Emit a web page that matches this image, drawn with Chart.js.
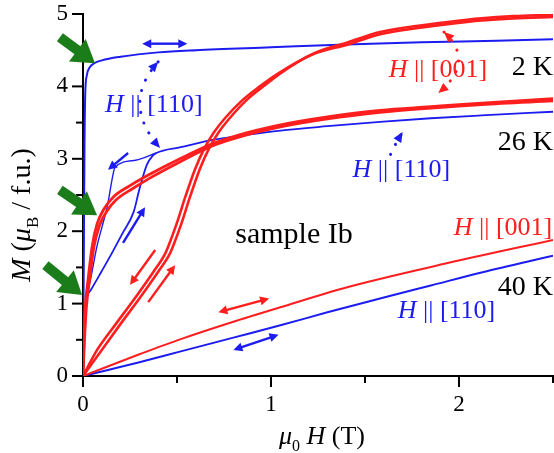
<!DOCTYPE html>
<html>
<head>
<meta charset="utf-8">
<title>M(H) sample Ib</title>
<script src="https://cdn.jsdelivr.net/npm/chart.js@4.4.0/dist/chart.umd.min.js"></script>
<style>
  html, body { margin: 0; padding: 0; background: #fff; }
</style>
</head>
<body>
<canvas id="mhChart" width="554" height="453"></canvas>
<script>
const RED = '#ff1e1e';
const BLUE = '#1c1cf0';
const GREEN = '#1a7d1a';
const SERIF = '"Liberation Serif", "Times New Roman", serif';

// tick labels (field in T, moment in muB / f.u.)
const fieldTicks = [0, 1, 2];
const momentTicks = [0, 1, 2, 3, 4, 5];

// 2 K, H || [001] - up and down sweeps of the metamagnetic step
const h2k001Up   = [0, 0.1, 0.2, 0.3, 0.4, 0.46, 0.48, 0.52, 0.57, 0.62, 0.67, 0.72, 0.78, 0.87, 0.95, 1.05, 1.23, 1.41, 1.58, 1.76, 1.94, 2.12, 2.29, 2.5];
const m2k001Up   = [0, 0.36, 0.72, 1.07, 1.44, 1.68, 1.80, 2.08, 2.48, 2.85, 3.14, 3.36, 3.56, 3.81, 3.98, 4.18, 4.46, 4.61, 4.75, 4.83, 4.89, 4.94, 4.97, 4.99];
const h2k001Down = [0, 0.075, 0.175, 0.275, 0.375, 0.435, 0.455, 0.495, 0.545, 0.595, 0.645, 0.695, 0.755, 0.848, 0.93, 1.033, 1.22, 1.41, 1.58, 1.76, 1.94, 2.12, 2.29, 2.5];
const m2k001Down = [0, 0.36, 0.72, 1.07, 1.44, 1.68, 1.80, 2.08, 2.48, 2.85, 3.14, 3.36, 3.56, 3.81, 3.98, 4.17, 4.44, 4.58, 4.72, 4.80, 4.86, 4.91, 4.94, 4.96];

// 2 K, H || [110]
const h2k110 = [0, 0.004, 0.008, 0.012, 0.02, 0.035, 0.06, 0.1, 0.2, 0.4, 0.6, 1.0, 1.4, 1.8, 2.2, 2.5];
const m2k110 = [0, 1.5, 3.2, 3.9, 4.15, 4.26, 4.32, 4.36, 4.41, 4.47, 4.50, 4.54, 4.58, 4.61, 4.63, 4.65];

// 26 K, H || [001]
const h26k001Up   = [0, 0.005, 0.012, 0.027, 0.048, 0.075, 0.11, 0.16, 0.25, 0.35, 0.5, 0.7, 0.87, 1.05, 1.3, 1.58, 1.85, 2.12, 2.5];
const m26k001Up   = [0, 0.5, 0.95, 1.33, 1.78, 2.1, 2.3, 2.47, 2.63, 2.78, 2.98, 3.22, 3.36, 3.47, 3.58, 3.67, 3.72, 3.77, 3.83];
const h26k001Down = [0, 0.008, 0.018, 0.035, 0.058, 0.088, 0.125, 0.175, 0.265, 0.36, 0.51, 0.7, 0.87, 1.05, 1.3, 1.58, 1.85, 2.12, 2.5];
const m26k001Down = [0, 0.5, 0.95, 1.33, 1.78, 2.08, 2.27, 2.43, 2.59, 2.74, 2.95, 3.19, 3.33, 3.44, 3.55, 3.64, 3.70, 3.75, 3.80];

// 26 K, H || [110] - rising branch continuing to high field, and the return branch
const h26k110Up   = [0, 0.005, 0.012, 0.04, 0.1, 0.15, 0.21, 0.27, 0.30, 0.34, 0.37, 0.39, 0.52, 0.69, 0.87, 1.05, 1.3, 1.58, 1.85, 2.12, 2.5];
const m26k110Up   = [0, 0.5, 0.95, 1.18, 1.45, 1.68, 1.97, 2.27, 2.58, 2.92, 3.04, 3.08, 3.16, 3.26, 3.33, 3.39, 3.45, 3.51, 3.56, 3.60, 3.65];
const h26k110Down = [0.012, 0.02, 0.045, 0.075, 0.1, 0.13, 0.155, 0.17, 0.28, 0.39];
const m26k110Down = [0.95, 1.08, 1.4, 1.8, 2.05, 2.35, 2.72, 2.88, 2.98, 3.08];

// 40 K
const h40k001 = [0, 0.3, 0.52, 0.8, 1.05, 1.41, 1.94, 2.5];
const m40k001 = [0, 0.30, 0.51, 0.75, 0.95, 1.23, 1.56, 1.88];
const h40k110 = [0, 0.3, 0.52, 0.8, 1.05, 1.3, 1.58, 1.85, 2.12, 2.5];
const m40k110 = [0, 0.19, 0.34, 0.53, 0.70, 0.88, 1.07, 1.25, 1.43, 1.66];

const pts = (xs, ys) => xs.map((x, i) => ({ x, y: ys[i] }));

function curve(xs, ys, color, width) {
    return {
        data: pts(xs, ys),
        borderColor: color,
        borderWidth: width,
        pointRadius: 0,
        showLine: true,
        fill: false,
        cubicInterpolationMode: 'monotone'
    };
}

// annotations, all in data coordinates (T, muB)
const straightArrows = [
    { c: BLUE, a: [0.315, 4.59], b: [0.555, 4.59], both: true },
    { c: BLUE, a: [0.24, 3.08], b: [0.133, 2.85] },
    { c: BLUE, a: [0.213, 1.84], b: [0.33, 2.33] },
    { c: RED,  a: [0.384, 1.74], b: [0.25, 1.26] },
    { c: RED,  a: [0.347, 1.02], b: [0.49, 1.53] },
    { c: RED,  a: [0.72, 0.88], b: [0.99, 1.07], both: true },
    { c: BLUE, a: [0.80, 0.36], b: [1.04, 0.57], both: true }
];
const dottedArrows = [
    { c: BLUE, a: [0.40, 4.34], ctrl: [0.20, 3.76], b: [0.41, 3.15], both: true },
    { c: RED,  a: [1.92, 4.75], ctrl: [2.09, 4.34], b: [1.89, 3.91], both: true },
    { c: BLUE, a: [1.636, 3.06], ctrl: [1.66, 3.2], b: [1.70, 3.37] }
];
const greenArrows = [
    { tail: [-0.123, 4.68], tip: [0.064, 4.32] },
    { tail: [-0.123, 2.57], tip: [0.075, 2.22] },
    { tail: [-0.2, 1.53], tip: [-0.005, 1.12] }
];
const labels = [
    { parts: [{ t: 'H', it: true }, { t: ' || [001]' }], c: RED,  at: [1.626, 4.13], size: 26 },
    { parts: [{ t: 'H', it: true }, { t: ' || [110]' }], c: BLUE, at: [0.117, 3.65], size: 26 },
    { parts: [{ t: 'H', it: true }, { t: ' || [110]' }], c: BLUE, at: [1.434, 2.75], size: 26 },
    { parts: [{ t: 'H', it: true }, { t: ' || [001]' }], c: RED,  at: [1.972, 1.95], size: 26 },
    { parts: [{ t: 'H', it: true }, { t: ' || [110]' }], c: BLUE, at: [1.674, 0.80], size: 26 },
    { parts: [{ t: '2 K' }],  c: '#000', at: [2.5, 4.16], size: 28, align: 'right' },
    { parts: [{ t: '26 K' }], c: '#000', at: [2.5, 3.12], size: 28, align: 'right' },
    { parts: [{ t: '40 K' }], c: '#000', at: [2.5, 1.12], size: 28, align: 'right' },
    { parts: [{ t: 'sample Ib' }], c: '#000', at: [0.81, 1.84], size: 30 }
];

function fontFor(p, size) {
    const s = p.sub ? Math.round(size * 0.62) : size;
    return (p.it ? 'italic ' : '') + s + 'px ' + SERIF;
}

function drawRich(ctx, parts, x, y, size, color, align) {
    const widths = parts.map(p => { ctx.font = fontFor(p, size); return ctx.measureText(p.t).width; });
    const total = widths.reduce((a, b) => a + b, 0);
    let cx = align === 'right' ? x - total : align === 'center' ? x - total / 2 : x;
    ctx.fillStyle = color;
    ctx.textAlign = 'left';
    ctx.textBaseline = 'alphabetic';
    parts.forEach((p, i) => {
        ctx.font = fontFor(p, size);
        ctx.fillText(p.t, cx, y + (p.sub ? size * 0.28 : 0));
        cx += widths[i];
    });
}

function head(ctx, x, y, ang, len, wid) {
    const bx = x - len * Math.cos(ang), by = y - len * Math.sin(ang);
    ctx.beginPath();
    ctx.moveTo(x, y);
    ctx.lineTo(bx + wid / 2 * Math.sin(ang), by - wid / 2 * Math.cos(ang));
    ctx.lineTo(bx - wid / 2 * Math.sin(ang), by + wid / 2 * Math.cos(ang));
    ctx.closePath();
    ctx.fill();
}

const decorations = {
    id: 'decorations',
    afterDraw(chart) {
        const ctx = chart.ctx;
        const xs = chart.scales.x, ys = chart.scales.y;
        const area = chart.chartArea;
        const P = v => [xs.getPixelForValue(v[0]), ys.getPixelForValue(v[1])];
        ctx.save();

        // tick marks, long on labelled values
        ctx.strokeStyle = '#000';
        ctx.lineWidth = 2;
        ys.ticks.forEach(t => {
            const py = ys.getPixelForValue(t.value);
            const len = momentTicks.includes(t.value) ? 11 : 7;
            ctx.beginPath(); ctx.moveTo(area.left - len, py); ctx.lineTo(area.left, py); ctx.stroke();
        });
        xs.ticks.forEach(t => {
            const px = xs.getPixelForValue(t.value);
            const len = fieldTicks.includes(t.value) ? 11 : 7;
            ctx.beginPath(); ctx.moveTo(px, area.bottom); ctx.lineTo(px, area.bottom + len); ctx.stroke();
        });

        // straight sweep-direction arrows
        straightArrows.forEach(a => {
            const [x0, y0] = P(a.a), [x1, y1] = P(a.b);
            const ang = Math.atan2(y1 - y0, x1 - x0);
            const hl = 9;
            ctx.strokeStyle = a.c; ctx.fillStyle = a.c; ctx.lineWidth = 2.4;
            ctx.beginPath();
            ctx.moveTo(x0 + (a.both ? hl * 0.8 * Math.cos(ang) : 0), y0 + (a.both ? hl * 0.8 * Math.sin(ang) : 0));
            ctx.lineTo(x1 - hl * 0.8 * Math.cos(ang), y1 - hl * 0.8 * Math.sin(ang));
            ctx.stroke();
            head(ctx, x1, y1, ang, hl, 9);
            if (a.both) head(ctx, x0, y0, ang + Math.PI, hl, 9);
        });

        // dotted arrows linking labels to curves
        dottedArrows.forEach(a => {
            const [x0, y0] = P(a.a), [cx, cy] = P(a.ctrl), [x1, y1] = P(a.b);
            ctx.strokeStyle = a.c; ctx.fillStyle = a.c; ctx.lineWidth = 3; ctx.lineCap = 'round';
            ctx.setLineDash([0.1, 11]);
            ctx.beginPath(); ctx.moveTo(x0, y0); ctx.quadraticCurveTo(cx, cy, x1, y1); ctx.stroke();
            ctx.setLineDash([]);
            head(ctx, x1, y1, Math.atan2(y1 - cy, x1 - cx), 10, 9);
            if (a.both) head(ctx, x0, y0, Math.atan2(y0 - cy, x0 - cx), 10, 9);
        });
        ctx.lineCap = 'butt';

        // green markers pointing at the low-field steps
        greenArrows.forEach(g => {
            const [x0, y0] = P(g.tail), [x1, y1] = P(g.tip);
            const ang = Math.atan2(y1 - y0, x1 - x0);
            ctx.strokeStyle = GREEN; ctx.fillStyle = GREEN; ctx.lineWidth = 10;
            ctx.beginPath(); ctx.moveTo(x0, y0);
            ctx.lineTo(x1 - 18 * Math.cos(ang), y1 - 18 * Math.sin(ang)); ctx.stroke();
            head(ctx, x1, y1, ang, 22, 28);
        });

        // curve labels
        labels.forEach(l => {
            const [x, y] = P(l.at);
            drawRich(ctx, l.parts, x, y, l.size, l.c, l.align || 'left');
        });

        // axis titles
        const midX = (area.left + area.right) / 2;
        drawRich(ctx, [{ t: '\u03bc', it: true }, { t: '0', sub: true }, { t: ' ' }, { t: 'H', it: true }, { t: ' (T)' }],
            midX + 4, area.bottom + 68, 26, '#000', 'center');
        ctx.save();
        ctx.translate(30, 215);
        ctx.rotate(-Math.PI / 2);
        drawRich(ctx, [{ t: 'M', it: true }, { t: ' (' }, { t: '\u03bc', it: true }, { t: 'B', sub: true }, { t: ' / f.u.)' }],
            0, 0, 28, '#000', 'center');
        ctx.restore();

        ctx.restore();
    }
};

function initChart() {
    const ctx = document.getElementById('mhChart').getContext('2d');
    new Chart(ctx, {
        type: 'scatter',
        data: {
            datasets: [
                curve(h2k001Up, m2k001Up, RED, 2.6),
                curve(h2k001Down, m2k001Down, RED, 2.6),
                curve(h26k001Up, m26k001Up, RED, 2.8),
                curve(h26k001Down, m26k001Down, RED, 2.8),
                curve(h40k001, m40k001, RED, 2),
                curve(h2k110, m2k110, BLUE, 2),
                curve(h26k110Up, m26k110Up, BLUE, 1.8),
                curve(h26k110Down, m26k110Down, BLUE, 1.4),
                curve(h40k110, m40k110, BLUE, 2)
            ]
        },
        options: {
            responsive: false,
            animation: false,
            layout: { padding: { top: 14, right: 1, left: 0, bottom: 0 } },
            plugins: { legend: { display: false }, tooltip: { enabled: false } },
            scales: {
                x: {
                    type: 'linear',
                    min: 0, max: 2.5,
                    afterFit: s => { s.height = 77; s.paddingLeft = 0; s.paddingRight = 0; },
                    grid: { display: false, drawTicks: false },
                    border: { display: true, color: '#000', width: 2 },
                    ticks: {
                        stepSize: 0.5,
                        padding: 15,
                        color: '#000',
                        font: { family: SERIF, size: 23 },
                        callback: v => fieldTicks.includes(v) ? String(v) : ''
                    }
                },
                y: {
                    type: 'linear',
                    min: 0, max: 5,
                    afterFit: s => { s.width = 83; s.paddingTop = 0; s.paddingBottom = 0; },
                    grid: { display: false, drawTicks: false },
                    border: { display: true, color: '#000', width: 2 },
                    ticks: {
                        stepSize: 0.5,
                        padding: 15,
                        color: '#000',
                        font: { family: SERIF, size: 23 },
                        callback: v => momentTicks.includes(v) ? String(v) : ''
                    }
                }
            }
        },
        plugins: [decorations]
    });
}

document.addEventListener('DOMContentLoaded', initChart);
</script>
</body>
</html>
